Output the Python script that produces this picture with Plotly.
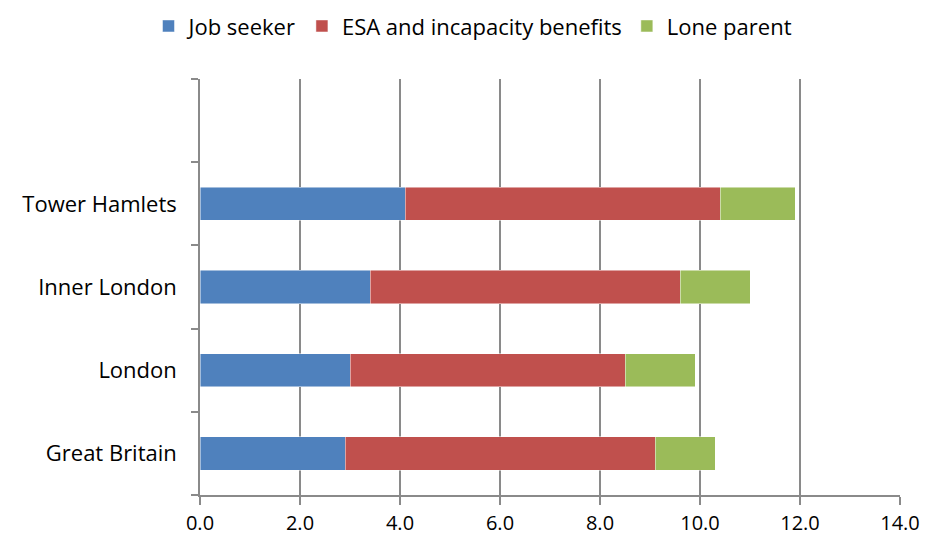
import plotly.graph_objects as go

categories = ["Great Britain", "London", "Inner London", "Tower Hamlets", " "]
job_seeker = [2.9, 3.0, 3.4, 4.1]
esa_incapacity = [6.2, 5.5, 6.2, 6.3]
lone_parent = [1.2, 1.4, 1.4, 1.5]
x_ticks = [0, 2, 4, 6, 8, 10, 12, 14]
x_tick_labels = ["0.0", "2.0", "4.0", "6.0", "8.0", "10.0", "12.0", "14.0"]

series = [
    ("Job seeker", job_seeker, "#4F81BD"),
    ("ESA and incapacity benefits", esa_incapacity, "#C0504D"),
    ("Lone parent", lone_parent, "#9BBB59"),
]

FONT = "Open Sans"
FS = 22
fig = go.Figure()
for name, vals, color in series:
    fig.add_trace(go.Bar(
        y=categories[:len(vals)], x=vals, name=name, orientation="h",
        marker=dict(color=color, line=dict(color="rgba(255,255,255,0.6)", width=0.8)),
    ))

grid = "#8A8A8A"
fig.update_layout(
    width=928, height=539,
    margin=dict(l=200, r=28, t=79, b=44, autoexpand=False),
    barmode="stack", bargap=0.6,
    plot_bgcolor="white", paper_bgcolor="white",
    font=dict(family=FONT, size=FS, color="black"),
    legend=dict(orientation="h", x=0.39, xanchor="center", y=1.127, yanchor="middle",
                font=dict(family=FONT, size=FS), traceorder="normal", itemwidth=30),
    xaxis=dict(range=[0, 14], tickvals=x_ticks, ticktext=x_tick_labels,
               tickfont=dict(size=20),
               showgrid=True, gridcolor=grid, gridwidth=1.6,
               showline=True, linecolor=grid, linewidth=1.6,
               ticks="outside", ticklen=8, tickcolor=grid, tickwidth=1.6,
               zeroline=False, fixedrange=True, automargin=False, ticklabelstandoff=1),
    yaxis=dict(type="category", categoryorder="array", categoryarray=categories,
               range=[-0.5, 4.5], tickson="boundaries",
               showline=True, linecolor=grid, linewidth=1.6,
               ticks="outside", ticklen=7, tickcolor=grid, tickwidth=1.6,
               showgrid=False, ticklabelstandoff=17, fixedrange=True, automargin=False),
)

fig.write_html("out.html")
